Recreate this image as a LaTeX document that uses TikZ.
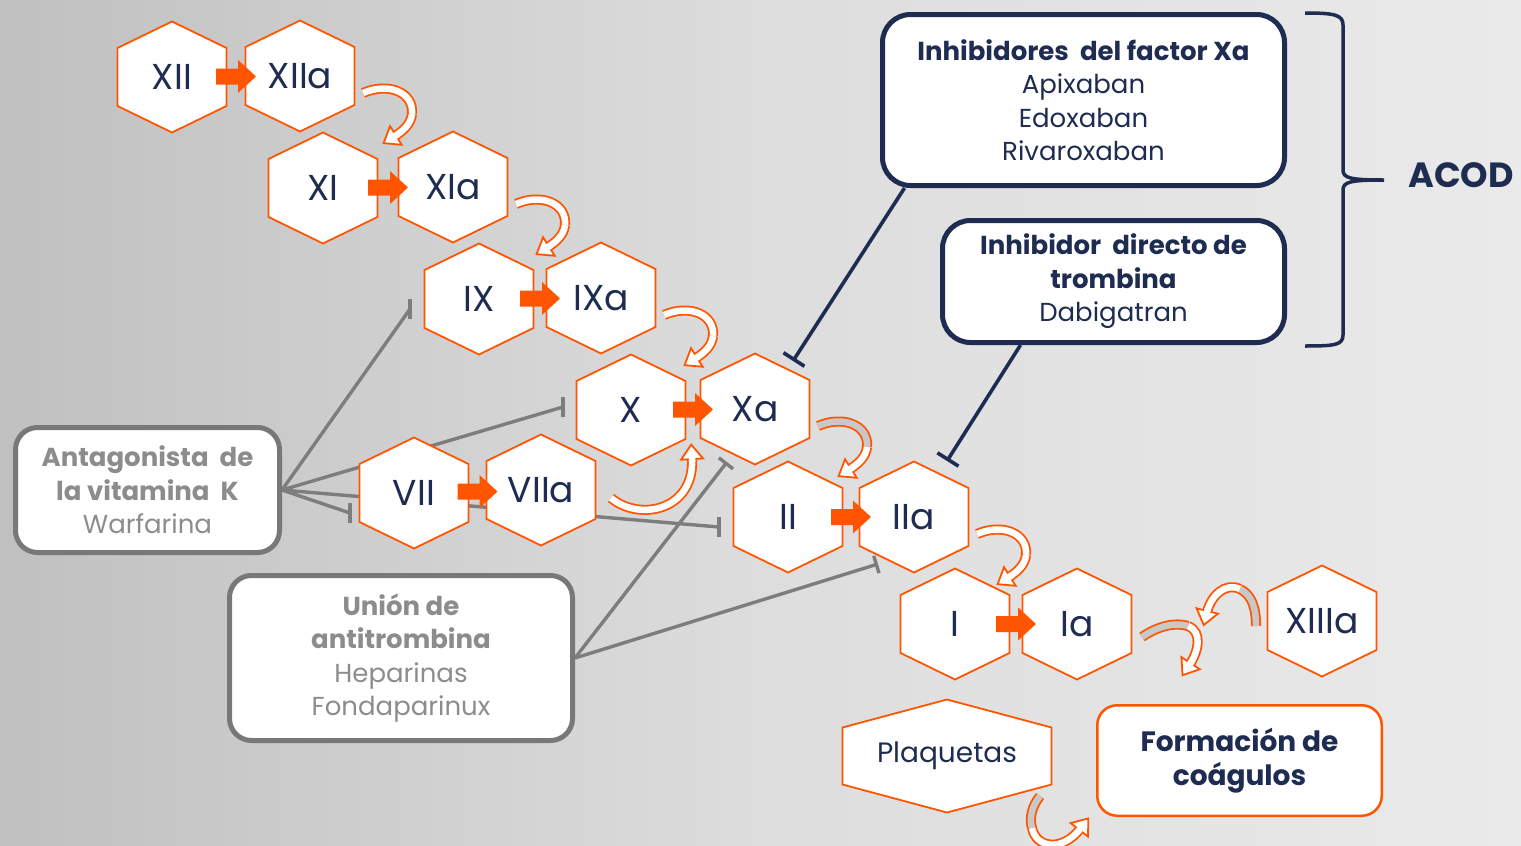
\documentclass[tikz,border=0pt]{standalone}
\usepackage{fontspec}
\setmainfont{Poppins}
\usetikzlibrary{arrows.meta,decorations.markings,calc}
\pgfdeclarelayer{bglayer}
\pgfdeclarelayer{linelayer}
\pgfsetlayers{bglayer,linelayer,main}

\definecolor{navy}{RGB}{31,44,82}
\definecolor{orng}{RGB}{255,85,0}
\definecolor{gline}{RGB}{125,125,125}
\definecolor{gtext}{RGB}{140,140,140}
\definecolor{gborder}{RGB}{120,120,120}
\definecolor{bgL}{RGB}{192,192,192}
\definecolor{bgM}{RGB}{221,221,221}
\definecolor{bgR}{RGB}{234,234,234}
\definecolor{bandgrey}{RGB}{200,200,200}

\tikzset{
  hexline/.style={draw=orng, fill=white, line width=1.8pt, line join=miter},
  hexlabel/.style={text=navy, font=\fontsize{36}{40}\selectfont, inner sep=0pt, minimum width=109pt, minimum height=111pt},
  navybox/.style={draw=navy, line width=5pt, fill=white, rounded corners=28pt, text=navy, align=center, font=\fontsize{26}{33.5}\selectfont, inner sep=0pt},
  greybox/.style={draw=gborder, line width=5pt, fill=white, rounded corners=22pt, text=gtext, align=center, font=\fontsize{26}{33.5}\selectfont, inner sep=0pt},
  orangebox/.style={draw=orng, line width=2.5pt, fill=white, rounded corners=20pt, text=navy, align=center, font=\fontsize{28}{34.5}\selectfont\bfseries, inner sep=0pt},
  gl/.style={draw=gline, line width=3.4pt},
  nl/.style={draw=navy, line width=3.6pt},
  band/.style={draw=orng, line width=1.8pt, double=white, double distance=6.5pt},
  bandg/.style={band, double=bandgrey},
  headend/.style={postaction={decorate}, decoration={markings, mark=at position 0.999 with {\draw[fill=white, draw=orng, line width=1.8pt, line join=miter] (-1pt,-11pt) -- (13.5pt,0pt) -- (-1pt,11pt) -- cycle; \fill[white] (-3pt,-3.25pt) rectangle (1.5pt,3.25pt);}}},
}

\newcommand\hexnode[3]{%
  \draw[hexline] (#2) ++(0,-55.5) -- ++(54.5,26.5) -- ++(0,58) -- ++(-54.5,26.5) -- ++(-54.5,-26.5) -- ++(0,-58) -- cycle;
  \node[hexlabel] (#1) at (#2) {#3};}
\newcommand\blockarrow[2]{%
  \fill[orng] ($(#1.center)!0.5!(#2.center)$) ++(-20,-8) -- ++(22,0) -- ++(0,-8.5) -- ++(18,16.5) -- ++(-18,16.5) -- ++(0,-8.5) -- ++(-22,0) -- cycle;}
\newcommand\downcurl[2][band]{%
  \begin{scope}[shift={(#2.center)}]
    \draw[#1] (63,17) .. controls (88,6) and (114,16) .. (112,38);
    \draw[band] (112,38) .. controls (111,48) and (103,55) .. (95,60);
    \path[headend] (112,38) .. controls (111,48) and (103,55) .. (95,60);
  \end{scope}}

\begin{document}
\begin{tikzpicture}[x=1pt, y=-1pt]
\begin{pgfonlayer}{bglayer}
\shade[left color=bgL, right color=bgR, middle color=bgM] (0,0) rectangle (1521,846);
\end{pgfonlayer}
\useasboundingbox (0,0) rectangle (1521,846);
\clip (0,0) rectangle (1521,846);

% boxes
\node[navybox, minimum width=402pt, minimum height=171pt] (inhXa) at (1083.5,100)
  {\textbf{Inhibidores\ \ del factor Xa}\\Apixaban\\Edoxaban\\Rivaroxaban};
\node[navybox, minimum width=342pt, minimum height=122pt] (inhDT) at (1113.5,281.5)
  {\textbf{Inhibidor\ \ directo de}\\\textbf{trombina}\\Dabigatran};
\node[greybox, minimum width=264pt, minimum height=125pt] (antag) at (147.5,490)
  {\textbf{Antagonista\ \ de}\\\textbf{la vitamina\ \ K}\\Warfarina};
\node[greybox, minimum width=343pt, minimum height=165pt] (union) at (401,658)
  {\textbf{Unión de}\\\textbf{antitrombina}\\Heparinas\\Fondaparinux};
\node[orangebox, minimum width=284.5pt, minimum height=110.5pt] (form) at (1239.5,760.5)
  {Formación de\\coágulos};
\node[text=navy, font=\fontsize{35}{40}\selectfont\bfseries, inner sep=0pt] (acod) at (1461,175) {ACOD};

% hexagons
\hexnode{XII}{172,77}{XII}
\hexnode{XIIa}{300,76}{XIIa}
\hexnode{XI}{323,188}{XI}
\hexnode{XIa}{453,187}{XIa}
\hexnode{IX}{479,299}{IX}
\hexnode{IXa}{601,298}{IXa}
\hexnode{X}{631,410}{X}
\hexnode{Xa}{755,409}{Xa}
\hexnode{VII}{414,493}{VII}
\hexnode{VIIa}{541,490}{VIIa}
\hexnode{II}{788,517}{II}
\hexnode{IIa}{914,517}{IIa}
\hexnode{I}{955,624}{I}
\hexnode{Ia}{1077,624}{Ia}
\hexnode{XIIIa}{1322,621}{XIIIa}
\draw[hexline] (947,756) ++(0,-56.5) -- ++(104.5,28) -- ++(0,57) -- ++(-104.5,28) -- ++(-104.5,-28) -- ++(0,-57) -- cycle;
\node[text=navy, font=\fontsize{28}{32}\selectfont, inner sep=0pt] (plaq) at (947,756) {Plaquetas};

% inhibition lines
\begin{pgfonlayer}{linelayer}
\coordinate (tIX) at (410,309);
\coordinate (tX) at (563,407);
\coordinate (tII) at (719,527);
\coordinate (tVII) at (350,513);
\draw[gl] (antag.east) -- (tIX);
\draw[gl] (antag.east) -- (tX);
\draw[gl] (antag.east) -- (tII);
\draw[gl] (antag.east) -- (tVII);
\foreach \t in {tIX,tX,tII,tVII}{\draw[gl] ([shift={(0,-10)}]\t) -- ([shift={(0,10)}]\t);}
\coordinate (tXa) at (727,462);
\coordinate (tIIa) at (878,564);
\draw[gl,-{Bar[width=18pt]}] (union.east) -- (tXa);
\draw[gl,-{Bar[width=18pt]}] (union.east) -- (tIIa);
\coordinate (nXa) at (793,361);
\coordinate (nIIa) at (947,461);
\draw[nl,-{Bar[width=25pt]}] ([shift={(24.5,0)}]inhXa.south west) -- (nXa);
\draw[nl,-{Bar[width=25pt]}] ([shift={(80.5,0)}]inhDT.south west) -- (nIIa);
\end{pgfonlayer}

% block arrows
\blockarrow{XII}{XIIa}
\blockarrow{XI}{XIa}
\blockarrow{IX}{IXa}
\blockarrow{X}{Xa}
\blockarrow{VII}{VIIa}
\blockarrow{II}{IIa}
\blockarrow{I}{Ia}

% curved arrows
\downcurl{XIIa}
\downcurl{XIa}
\downcurl{IXa}
\downcurl[bandg]{Xa}
\downcurl{IIa}
\begin{scope}[shift={(VIIa.center)}]
  \draw[band] (70,8) .. controls (99,32) and (154,20) .. (151,-32);
  \path[headend] (70,8) .. controls (99,32) and (154,20) .. (151,-32);
\end{scope}
\begin{scope}[shift={(Ia.center)}]
  \draw[bandg] (65,13) .. controls (81,2) and (98,-2) .. (111,2);
  \draw[band] (111,2) .. controls (126,8) and (121,28) .. (113,40);
  \path[headend] (111,2) .. controls (126,8) and (121,28) .. (113,40);
\end{scope}
\begin{scope}[shift={(XIIIa.center)}]
  \draw[bandg] (-66,5) .. controls (-66,-13) and (-70,-26) .. (-82,-32);
  \draw[band] (-82,-32) .. controls (-97,-39) and (-111,-25) .. (-115,-9);
  \path[headend] (-82,-32) .. controls (-97,-39) and (-111,-25) .. (-115,-9);
\end{scope}
\begin{scope}[shift={(plaq.center)}]
  \draw[bandg] (93,40) .. controls (85,50) and (82,62) .. (85,72);
  \draw[band] (85,72) .. controls (89,92) and (115,96) .. (133,73);
  \path[headend] (85,72) .. controls (89,92) and (115,96) .. (133,73);
\end{scope}

% brace
\draw[navy, line width=3.5pt] (1305,13) .. controls (1335,13) and (1343,15) .. (1343,25) -- (1343,170)
  .. controls (1343,178) and (1350,180) .. (1384,180) .. controls (1350,180) and (1343,182) .. (1343,190)
  -- (1343,335) .. controls (1343,345) and (1335,346) .. (1305,346);
\end{tikzpicture}
\end{document}
